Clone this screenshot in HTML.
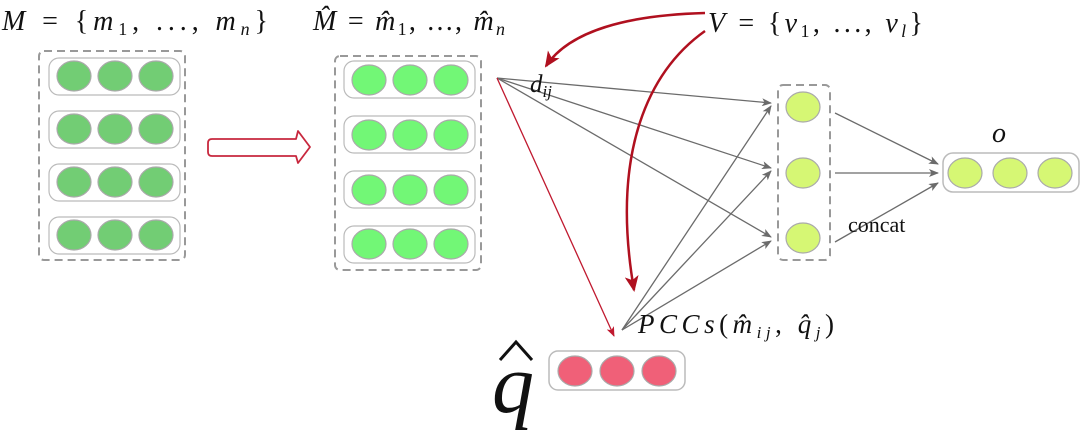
<!DOCTYPE html>
<html><head><meta charset="utf-8"><style>
html,body{margin:0;padding:0;background:#fff;}
svg{display:block;}
text{font-family:"Liberation Serif",serif;fill:#111;}
</style></head><body>
<svg width="1080" height="430" viewBox="0 0 1080 430" xmlns="http://www.w3.org/2000/svg">
<defs>
<marker id="ga" markerWidth="10" markerHeight="8" refX="9" refY="4" orient="auto" markerUnits="userSpaceOnUse"><path d="M0,0 L10,4 L0,8 L2.5,4 Z" fill="#6b6b6b"/></marker>
<marker id="ra" markerWidth="10" markerHeight="8" refX="9" refY="4" orient="auto" markerUnits="userSpaceOnUse"><path d="M0,0 L10,4 L0,8 L2.5,4 Z" fill="#c0192f"/></marker>
<marker id="rb" markerWidth="16" markerHeight="14" refX="14" refY="7" orient="auto" markerUnits="userSpaceOnUse"><path d="M0,0 L16,7 L0,14 L4,7 Z" fill="#b0101f"/></marker>
</defs>

<!-- Left M -->
<text x="2" y="30" font-size="28" font-style="italic" textLength="266" lengthAdjust="spacing">M <tspan font-style="normal">= {</tspan>m<tspan font-size="18" dy="5" font-style="normal">1</tspan><tspan dy="-5" font-style="normal">, ..., </tspan>m<tspan font-size="18" dy="5">n</tspan><tspan dy="-5" font-style="normal">}</tspan></text>
<rect x="39" y="51" width="146" height="209" rx="5" fill="none" stroke="#999" stroke-width="2" stroke-dasharray="8,5"/>
<g fill="#72cd74" stroke="#aaa" stroke-width="1.2">
<rect x="49" y="58" width="131" height="37" rx="10" fill="none" stroke="#bbb"/>
<rect x="49" y="111" width="131" height="37" rx="10" fill="none" stroke="#bbb"/>
<rect x="49" y="164" width="131" height="37" rx="10" fill="none" stroke="#bbb"/>
<rect x="49" y="217" width="131" height="37" rx="10" fill="none" stroke="#bbb"/>
<ellipse cx="74" cy="76" rx="17" ry="15"/><ellipse cx="115" cy="76" rx="17" ry="15"/><ellipse cx="156" cy="76" rx="17" ry="15"/>
<ellipse cx="74" cy="129" rx="17" ry="15"/><ellipse cx="115" cy="129" rx="17" ry="15"/><ellipse cx="156" cy="129" rx="17" ry="15"/>
<ellipse cx="74" cy="182" rx="17" ry="15"/><ellipse cx="115" cy="182" rx="17" ry="15"/><ellipse cx="156" cy="182" rx="17" ry="15"/>
<ellipse cx="74" cy="235" rx="17" ry="15"/><ellipse cx="115" cy="235" rx="17" ry="15"/><ellipse cx="156" cy="235" rx="17" ry="15"/>
</g>

<!-- big arrow -->
<path d="M212,139 L296,139 L298,131 L310,147 L298,163 L296,156 L212,156 Q208,156 208,152 L208,143 Q208,139 212,139 Z" fill="#fff" stroke="#c8283e" stroke-width="1.8" stroke-linejoin="round"/>

<!-- M hat -->
<text x="313" y="30" font-size="28" font-style="italic" textLength="192" lengthAdjust="spacing">M̂ <tspan font-style="normal">= </tspan>m̂<tspan font-size="18" dy="5" font-style="normal">1</tspan><tspan dy="-5" font-style="normal">, ..., </tspan>m̂<tspan font-size="18" dy="5">n</tspan></text>
<rect x="335" y="56" width="146" height="214" rx="5" fill="none" stroke="#999" stroke-width="2" stroke-dasharray="8,5"/>
<g fill="#72f776" stroke="#aaa" stroke-width="1.2">
<rect x="344" y="61" width="131" height="37" rx="10" fill="none" stroke="#bbb"/>
<rect x="344" y="116" width="131" height="37" rx="10" fill="none" stroke="#bbb"/>
<rect x="344" y="171" width="131" height="37" rx="10" fill="none" stroke="#bbb"/>
<rect x="344" y="226" width="131" height="37" rx="10" fill="none" stroke="#bbb"/>
<ellipse cx="369" cy="80" rx="17" ry="15"/><ellipse cx="410" cy="80" rx="17" ry="15"/><ellipse cx="451" cy="80" rx="17" ry="15"/>
<ellipse cx="369" cy="135" rx="17" ry="15"/><ellipse cx="410" cy="135" rx="17" ry="15"/><ellipse cx="451" cy="135" rx="17" ry="15"/>
<ellipse cx="369" cy="190" rx="17" ry="15"/><ellipse cx="410" cy="190" rx="17" ry="15"/><ellipse cx="451" cy="190" rx="17" ry="15"/>
<ellipse cx="369" cy="244" rx="17" ry="15"/><ellipse cx="410" cy="244" rx="17" ry="15"/><ellipse cx="451" cy="244" rx="17" ry="15"/>
</g>

<!-- gray connectors -->
<g stroke="#6b6b6b" stroke-width="1.3" fill="none" marker-end="url(#ga)">
<line x1="497" y1="78" x2="771" y2="103"/>
<line x1="497" y1="78" x2="771" y2="168"/>
<line x1="497" y1="78" x2="771" y2="237"/>
<line x1="622" y1="330" x2="771" y2="106"/>
<line x1="622" y1="330" x2="771" y2="171"/>
<line x1="622" y1="330" x2="771" y2="241"/>
<line x1="835" y1="113" x2="938" y2="164"/>
<line x1="835" y1="173" x2="938" y2="173"/>
<line x1="835" y1="242" x2="938" y2="183"/>
</g>
<line x1="497" y1="78" x2="614" y2="336" stroke="#c0192f" stroke-width="1.3" marker-end="url(#ra)"/>

<!-- red curves -->
<path d="M705,13 C630,15 570,30 546,66" fill="none" stroke="#b0101f" stroke-width="2.5" marker-end="url(#rb)"/>
<path d="M705,31 C650,70 610,150 634,290" fill="none" stroke="#b0101f" stroke-width="2.5" marker-end="url(#rb)"/>

<text x="708" y="32" font-size="28" font-style="italic" textLength="215" lengthAdjust="spacing">V <tspan font-style="normal">= {</tspan>v<tspan font-size="18" dy="5" font-style="normal">1</tspan><tspan dy="-5" font-style="normal">, ..., </tspan>v<tspan font-size="18" dy="5">l</tspan><tspan dy="-5" font-style="normal">}</tspan></text>
<text x="530" y="92" font-size="25" font-style="italic">d<tspan font-size="17" dy="5">ij</tspan></text>

<!-- middle -->
<rect x="778" y="85" width="52" height="175" rx="5" fill="none" stroke="#999" stroke-width="2" stroke-dasharray="8,5"/>
<g fill="#d6f774" stroke="#aaa" stroke-width="1.2">
<ellipse cx="803" cy="107" rx="17" ry="15"/><ellipse cx="803" cy="173" rx="17" ry="15"/><ellipse cx="803" cy="238" rx="17" ry="15"/>
</g>
<text x="848" y="232" font-size="22">concat</text>

<!-- output -->
<text x="992" y="142" font-size="28" font-style="italic">o</text>
<rect x="943" y="153" width="136" height="39" rx="10" fill="none" stroke="#bbb" stroke-width="1.5"/>
<g fill="#d6f774" stroke="#aaa" stroke-width="1.2">
<ellipse cx="965" cy="173" rx="17" ry="15"/><ellipse cx="1010" cy="173" rx="17" ry="15"/><ellipse cx="1055" cy="173" rx="17" ry="15"/>
</g>

<!-- q hat -->
<text x="638" y="333" font-size="27" font-style="italic" textLength="196" lengthAdjust="spacing">PCCs<tspan font-style="normal">(</tspan>m̂<tspan font-size="17" dy="5">ij</tspan><tspan dy="-5" font-style="normal">, </tspan>q̂<tspan font-size="17" dy="5">j</tspan><tspan dy="-5" font-style="normal">)</tspan></text>
<rect x="549" y="351" width="136" height="39" rx="9" fill="none" stroke="#bbb" stroke-width="1.5"/>
<g fill="#f06078" stroke="#aaa" stroke-width="1.2">
<ellipse cx="575" cy="371" rx="17" ry="15"/><ellipse cx="617" cy="371" rx="17" ry="15"/><ellipse cx="659" cy="371" rx="17" ry="15"/>
</g>
<text x="492" y="412" font-size="84" font-style="italic">q</text>
<path d="M500,360 L516,342 L532,360" fill="none" stroke="#111" stroke-width="3"/>
</svg>
</body></html>
